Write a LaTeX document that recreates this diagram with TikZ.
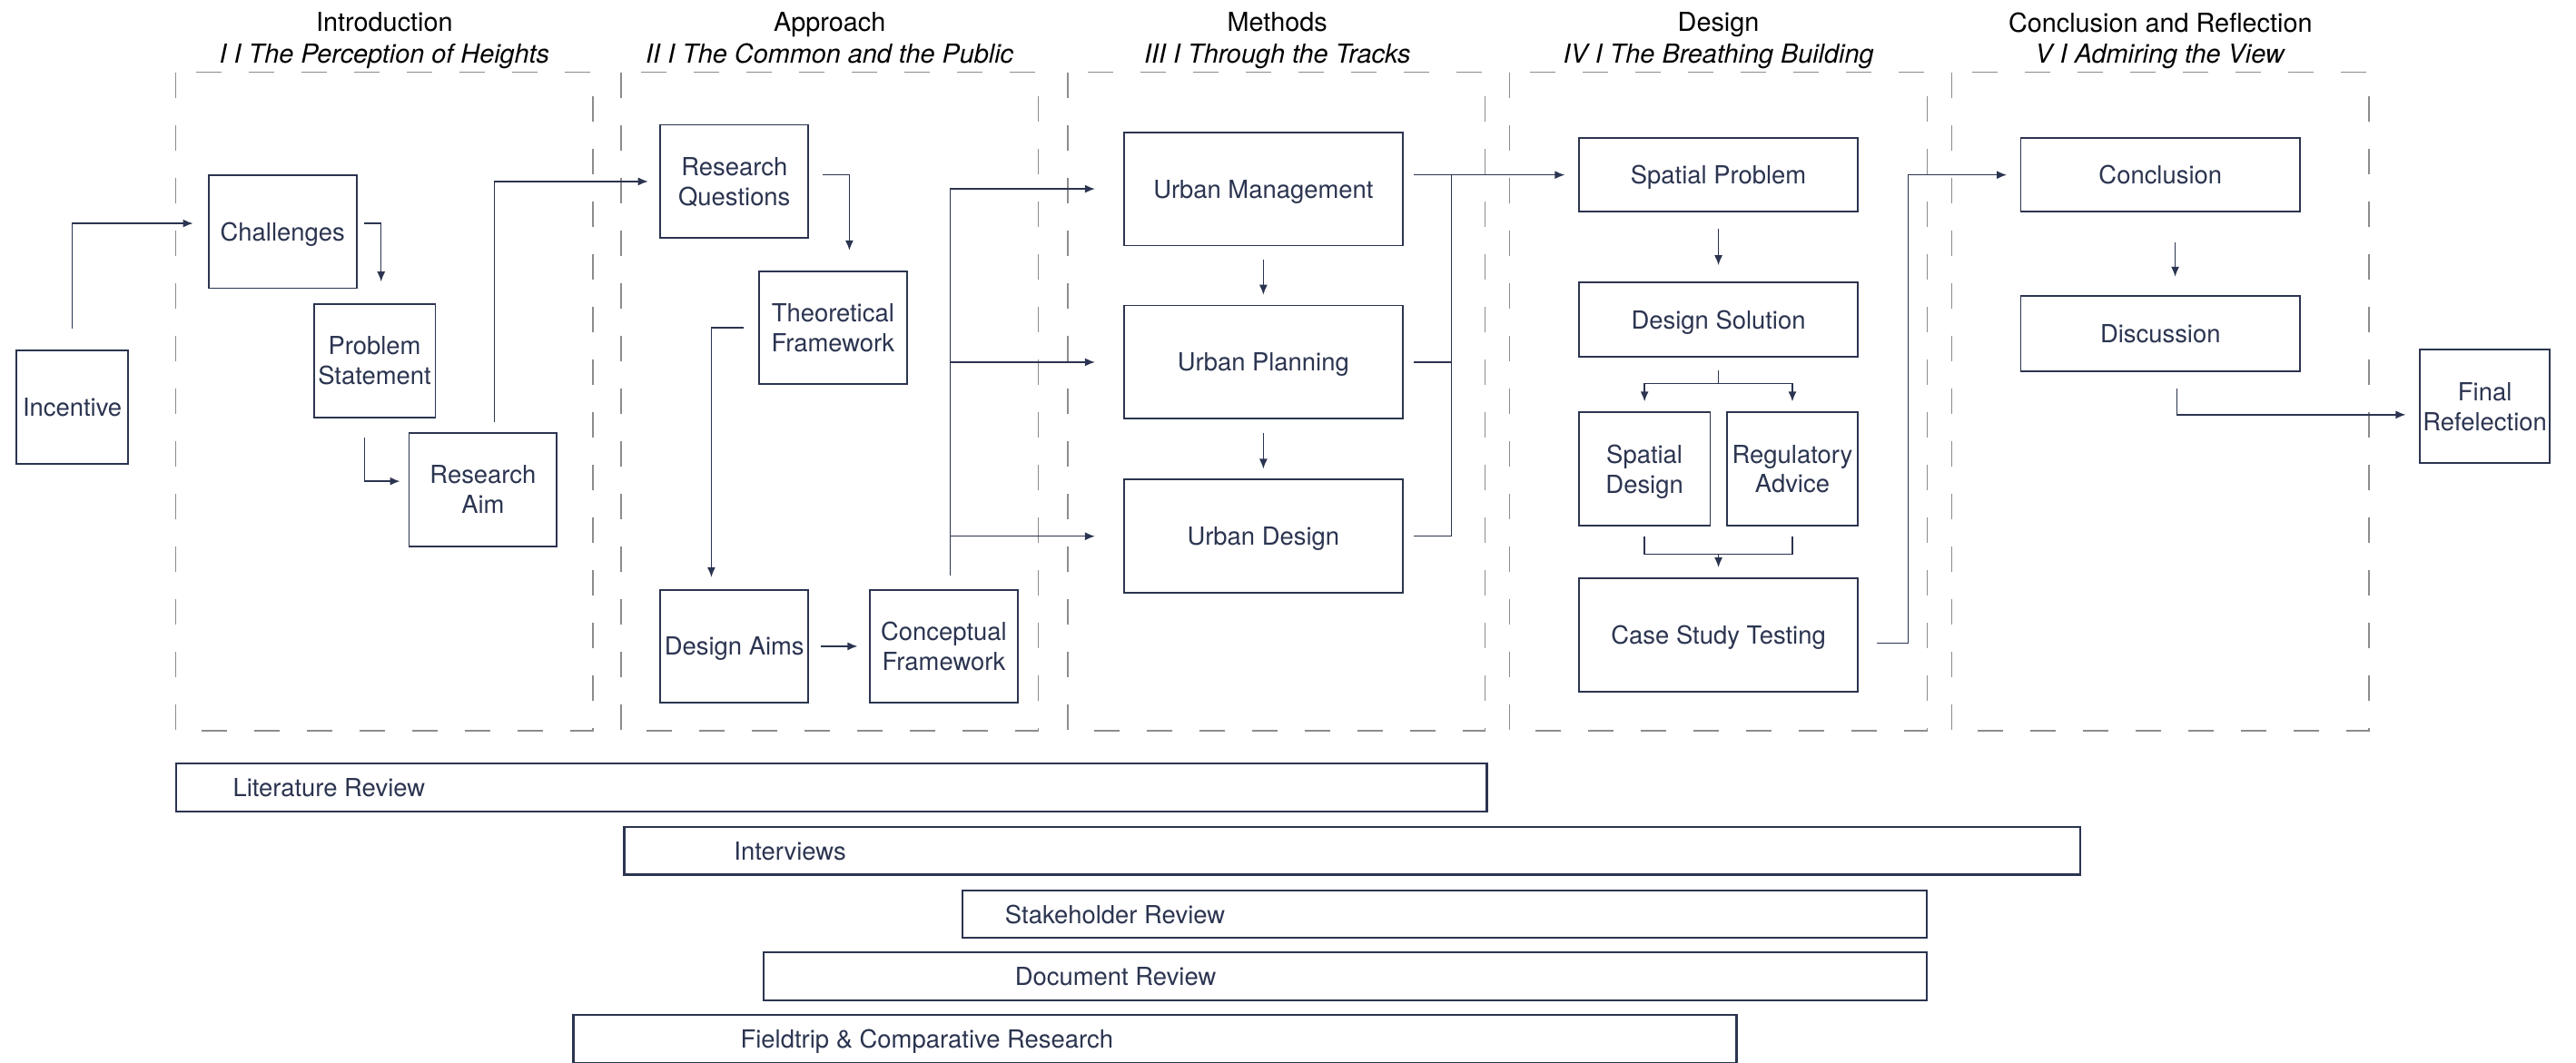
\documentclass[tikz,border=0pt]{standalone}
\usepackage{fontspec}
\setmainfont{TeX Gyre Heros}
\usepackage{tikz}
\usetikzlibrary{arrows.meta, positioning, calc}
\newlength{\ux}\setlength{\ux}{0.18093mm}
\definecolor{navy}{RGB}{43,52,80}
\definecolor{dashgray}{RGB}{140,140,140}
\tikzset{box/.style={rectangle,draw=navy,line width=0.55pt,text=navy,align=center,inner sep=1pt,text depth=0pt,font=\fontsize{7.8}{9.3}\selectfont,minimum width=90\ux,minimum height=69\ux},
         widebox/.style={box,minimum width=170\ux},
         flatbox/.style={widebox,minimum height=45\ux},
         phase/.style={draw=dashgray,line width=0.4pt,dash pattern=on 2.8mm off 3mm},
         title/.style={align=center,text depth=0pt,font=\fontsize{8.2}{9.8}\selectfont},
         bar/.style={rectangle,draw=navy,line width=0.6pt,inner sep=0pt,minimum height=29\ux},
         bartext/.style={text=navy,text depth=0pt,font=\fontsize{7.8}{9.3}\selectfont,inner sep=0pt},
         link/.style={draw=navy,line width=0.4pt},
         arrow/.style={link,-{Latex[length=1.1mm,width=0.9mm]}}}
\begin{document}
\begin{tikzpicture}[x=0.18093mm,y=-0.18093mm]
    \useasboundingbox (0,0) rectangle (1568,647);
    % phases
    \foreach \x in {107,378,650,919,1188} {\draw[phase] (\x,44) rectangle ++(254,401);}
    \foreach \n/\cx/\ttl/\sbt in {t1/234/Introduction/I I The Perception of Heights,
                                  t2/505/Approach/II I The Common and the Public,
                                  t3/777.5/Methods/III I Through the Tracks,
                                  t4/1046/Design/IV I The Breathing Building,
                                  t5/1315/Conclusion and Reflection/V I Admiring the View}
      {\node (\n) [title] at (\cx,23) {\ttl\\\textit{\sbt}};}
    % steps
    \node (inc) [box, minimum width=68\ux] at (44,248) {Incentive};
    \node (chal) [box] at (172,141) {Challenges};
    \node (prob) [box, minimum width=74\ux] at (228,219.5) {Problem\\Statement};
    \node (aim) [box] at (294,298) {Research\\Aim};
    \node (rq) [box] at (447,110.5) {Research\\Questions};
    \node (tf) [box] at (507,199.5) {Theoretical\\Framework};
    \node (da) [box] at (447,393.5) {Design Aims};
    \node (cf) [box] at (574.5,393.5) {Conceptual\\Framework};
    \node (um) [widebox] at (769,115) {Urban Management};
    \node (up) [widebox] at (769,220.5) {Urban Planning};
    \node (ud) [widebox] at (769,326.5) {Urban Design};
    \node (sp) [flatbox] at (1046,106.5) {Spatial Problem};
    \node (ds) [flatbox] at (1046,194.5) {Design Solution};
    \node (sd) [box, minimum width=80\ux] at (1001,285.5) {Spatial\\Design};
    \node (ra) [box, minimum width=80\ux] at (1091,285.5) {Regulatory\\Advice};
    \node (cst) [widebox] at (1046,386.5) {Case Study Testing};
    \node (con) [flatbox] at (1315,106.5) {Conclusion};
    \node (dis) [flatbox, minimum height=46\ux] at (1315,203) {Discussion};
    \node (fr) [box, minimum width=79\ux] at (1512.5,247.5) {Final\\Refelection};
    % connectors
    \draw[arrow, shorten <=13\ux, shorten >=9\ux] (inc.north) |- ([yshift=5\ux]chal.west);
    \draw[arrow, shorten <=4\ux, shorten >=13\ux] ([yshift=5\ux]chal.east) -| ([xshift=4\ux]prob.north);
    \draw[arrow, shorten <=12\ux, shorten >=5\ux] ([xshift=-6\ux]prob.south) |- ([yshift=5\ux]aim.west);
    \draw[arrow, shorten <=6\ux, shorten >=7\ux] ([xshift=7\ux]aim.north) |- (rq.west);
    \draw[arrow, shorten <=8\ux, shorten >=12\ux] ([yshift=4\ux]rq.east) -| ([xshift=10\ux]tf.north);
    \draw[arrow, shorten <=9\ux, shorten >=7\ux] (tf.west) -| ([xshift=-14\ux]da.north);
    \draw[arrow, shorten <=7\ux, shorten >=7\ux] (da) -- (cf);
    \coordinate (cfx) at ([xshift=4\ux]cf.north);
    \draw[arrow, shorten <=8\ux, shorten >=17\ux] (cfx) |- (um.west);
    \foreach \n in {up,ud} {\draw[arrow, shorten >=17\ux] (cfx |- \n.west) -- (\n.west);}
    \foreach \i/\j in {um/up,up/ud} {\draw[arrow, shorten <=8\ux, shorten >=6\ux] (\i) -- (\j);}
    \draw[arrow, shorten <=6\ux, shorten >=8\ux] (um.east |- sp.west) -- (sp.west);
    \path (um.east |- sp.west) ++(29,0) coordinate (mx);
    \draw[link, shorten <=6\ux] (ud.east) -| (mx);
    \draw[link, shorten <=6\ux] (up.east) -- (mx |- up.east);
    \draw[arrow, shorten <=10\ux, shorten >=10\ux] (sp) -- (ds);
    \coordinate (split) at ([yshift=-16\ux]ds.south);
    \draw[link] ([yshift=-8\ux]ds.south) -- (split);
    \foreach \n in {sd,ra} {\draw[arrow, shorten >=6\ux] (split) -| (\n.north);}
    \coordinate (merge) at ($(sd.south)!0.5!(ra.south)+(0,17)$);
    \foreach \n in {sd,ra} {\draw[link, shorten <=6\ux] (\n.south) |- (merge);}
    \draw[arrow, shorten >=6\ux] (merge) -- (cst.north);
    \draw[arrow, shorten <=11\ux, shorten >=8\ux] ([yshift=-5\ux]cst.east) -- ++(30,0) |- (con.west);
    \draw[arrow, shorten <=18\ux, shorten >=11\ux] ([xshift=9\ux]con.south) -- ([xshift=9\ux]dis.north);
    \draw[arrow, shorten <=10\ux, shorten >=8\ux] ([xshift=10\ux]dis.south) |- ([yshift=-5\ux]fr.west);
    % methods used
    \foreach \n/\cx/\cy/\w/\off/\txt in {lr/506/479.5/798/35/Literature Review,
                                         iv/823/518/886/67/Interviews,
                                         sr/879.5/556.5/587/26/Stakeholder Review,
                                         dr/819/594.5/708/153/Document Review,
                                         fc/703/632.5/708/102/Fieldtrip \& Comparative Research}
      {\node (\n) [bar, minimum width=\w\ux] at (\cx,\cy) {};
       \node (\n-t) [bartext, right=\off\ux of \n.west] {\txt};}
\end{tikzpicture}
\end{document}
